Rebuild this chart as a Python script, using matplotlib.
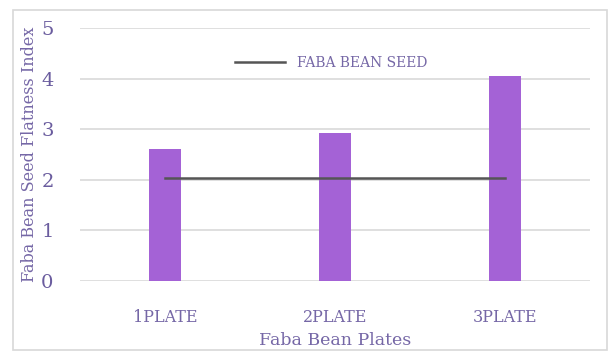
import matplotlib
matplotlib.use("Agg")
import matplotlib.pyplot as plt
from matplotlib.patches import Rectangle

categories = ["1PLATE", "2PLATE", "3PLATE"]
plate_index = [2.6, 2.92, 4.05]
seed_index = [2.03, 2.03, 2.03]
y_ticks = [0, 1, 2, 3, 4, 5]

plt.rcParams["font.family"] = ["DejaVu Serif", "Liberation Serif"]
text_color = "#7567a6"
bar_color = "#a462d6"

fig = plt.figure(figsize=(6.12, 3.52), dpi=100)
fig.patch.set_facecolor("white")
fig.patches.append(Rectangle((13 / 612, 0.005), 594 / 612, 1 - 10 / 352 - 0.005,
                             transform=fig.transFigure, fill=False,
                             edgecolor="#d8d8d8", linewidth=1.2))

ax = fig.add_axes([80 / 612, 1 - 281 / 352, 510 / 612, 253 / 352])
x = list(range(len(categories)))
ax.bar(x, plate_index, width=0.194, color=bar_color, zorder=3)
ax.plot(x, seed_index, color="#555555", linewidth=1.8, zorder=4,
        label="FABA BEAN SEED")

ax.set_xlim(-0.5, 2.5)
ax.set_ylim(0, 5)
ax.set_yticks(y_ticks)
ax.set_xticks(x)
ax.set_xticklabels(categories, fontsize=11.5, color=text_color)
ax.tick_params(axis="y", labelsize=14, colors="#6a5c9e", length=0, pad=19)
ax.tick_params(axis="x", length=0, pad=20)
ax.grid(axis="y", color="#d9d9d9", linewidth=1.2, zorder=0)
for s in ax.spines.values():
    s.set_visible(False)

ax.set_ylabel("Faba Bean Seed Flatness Index", fontsize=11.5, color=text_color)
ax.yaxis.set_label_coords(-0.082, 0.5)
ax.set_xlabel("Faba Bean Plates", fontsize=12.5, color=text_color)
ax.xaxis.set_label_coords(0.5, -0.20)

leg = ax.legend(loc="center left", bbox_to_anchor=(0.304, 0.862), frameon=False,
                fontsize=10, handlelength=3.6, handletextpad=0.85, borderpad=0,
                borderaxespad=0)
for t in leg.get_texts():
    t.set_color(text_color)

fig.savefig("out.png", dpi=100)
